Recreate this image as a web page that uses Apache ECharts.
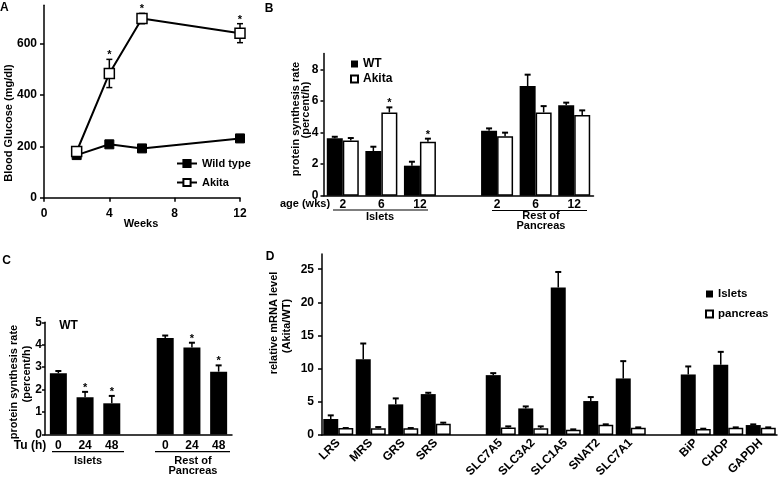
<!DOCTYPE html>
<html><head><meta charset="utf-8">
<script src="https://cdn.jsdelivr.net/npm/echarts@6/dist/echarts.min.js"></script>
<style>html,body{margin:0;padding:0;background:#fff}#c{width:778px;height:482px}</style>
</head><body><div id="c"></div>
<script>
// ---- Panel A: blood glucose ----
const weeks = [2, 4, 6, 12];
const glucoseWT = [166, 208, 192, 231];
const glucoseWTSem = [8, 10, 8, 12];
const glucoseAkita = [180, 484, 698, 641];
const glucoseAkitaSem = [10, 55, 20, 37];
const glucoseAkitaSig = [0, 1, 1, 1];
const glucoseTicks = [0, 200, 400, 600];

// ---- Panel B: protein synthesis by age ----
const ageCats = ['2', '6', '12', '', '2', '6', '12'];
const synthWT = [3.63, 2.83, 1.90, null, 4.11, 6.94, 5.72];
const synthWTErr = [0.10, 0.27, 0.25, null, 0.15, 0.72, 0.17];
const synthAkita = [3.50, 5.27, 3.42, null, 3.76, 5.27, 5.11];
const synthAkitaErr = [0.15, 0.32, 0.19, null, 0.23, 0.40, 0.29];
const synthAkitaSig = [0, 1, 1, 0, 0, 0, 0];
const synthTicks = [0, 2, 4, 6, 8];

// ---- Panel C: tunicamycin ----
const tuCats = ['0', '24', '48', '', '0', '24', '48'];
const tuRate = [2.73, 1.66, 1.39, null, 4.30, 3.88, 2.80];
const tuErr = [0.10, 0.24, 0.33, null, 0.11, 0.21, 0.28];
const tuSig = [0, 1, 1, 0, 0, 1, 1];

// ---- Panel D: relative mRNA ----
const genes = ['LRS', 'MRS', 'GRS', 'SRS', '', 'SLC7A5', 'SLC3A2', 'SLC1A5', 'SNAT2', 'SLC7A1', '', 'BiP', 'CHOP', 'GAPDH'];
const isletsMRNA = [2.41, 11.44, 4.62, 6.17, null, 9.03, 4.01, 22.23, 5.12, 8.53, null, 9.13, 10.59, 1.50];
const isletsErr = [0.55, 2.36, 0.90, 0.20, null, 0.30, 0.30, 2.36, 0.60, 2.61, null, 1.21, 1.95, 0.10];
const pancreasMRNA = [1.05, 1.00, 1.00, 1.71, null, 1.15, 1.00, 0.80, 1.56, 1.10, null, 0.90, 1.10, 1.10];
const pancreasErr = [0.00, 0.20, 0.05, 0.15, null, 0.15, 0.30, 0.05, 0.05, 0.05, null, 0.05, 0.05, 0.05];
const mrnaTicks = [0, 5, 10, 15, 20, 25];

const FF = 'Liberation Sans';
const T = { fontFamily: FF, fontWeight: 'bold', fontSize: 11, color: '#000' };
const TL = { fontFamily: FF, fontWeight: 'bold', fontSize: 12, color: '#000' };
const AX = { show: true, lineStyle: { color: '#000', width: 1.5 } };
const TK = { show: true, length: 4, lineStyle: { color: '#000', width: 1.5 } };

function catErrData(vals, errs, sig) {
  const out = [];
  vals.forEach((v, i) => { if (v != null) out.push([i, v, v + errs[i], sig ? sig[i] : 0]); });
  return out;
}
function catErrRender(offset) {
  return function (params, api) {
    const i = api.value(0);
    const a = api.coord([i, api.value(1)]);
    const b = api.coord([i, api.value(2)]);
    const x = a[0] + offset;
    const ch = [
      { type: 'line', shape: { x1: x, y1: a[1], x2: x, y2: b[1] }, style: { stroke: '#000', lineWidth: 1.5 } },
      { type: 'line', shape: { x1: x - 3, y1: b[1], x2: x + 3, y2: b[1] }, style: { stroke: '#000', lineWidth: 2 } }
    ];
    if (api.value(3)) ch.push({ type: 'text', x: x, y: b[1] - 4, style: { text: '*', font: 'bold 11px ' + FF, fill: '#000', textAlign: 'center', textVerticalAlign: 'middle' } });
    return { type: 'group', children: ch };
  };
}
function lineErrData(xs, vals, sems, sig) {
  return xs.map((x, i) => [x, vals[i] - sems[i], vals[i] + sems[i], sig ? sig[i] : 0]);
}
function lineErrRender(params, api) {
  const x = api.value(0);
  const a = api.coord([x, api.value(1)]);
  const b = api.coord([x, api.value(2)]);
  const ch = [
    { type: 'line', shape: { x1: a[0], y1: a[1], x2: b[0], y2: b[1] }, style: { stroke: '#000', lineWidth: 1.5 } },
    { type: 'line', shape: { x1: a[0] - 3, y1: a[1], x2: a[0] + 3, y2: a[1] }, style: { stroke: '#000', lineWidth: 1.5 } },
    { type: 'line', shape: { x1: b[0] - 3, y1: b[1], x2: b[0] + 3, y2: b[1] }, style: { stroke: '#000', lineWidth: 1.5 } }
  ];
  if (api.value(3)) ch.push({ type: 'text', x: b[0], y: b[1] - 4, style: { text: '*', font: 'bold 11px ' + FF, fill: '#000', textAlign: 'center', textVerticalAlign: 'middle' } });
  return { type: 'group', children: ch };
}

function txt(s, x, y, opt) {
  opt = opt || {};
  return {
    type: 'text', x: x, y: y, rotation: opt.rot || 0, silent: true,
    style: { text: s, font: 'bold ' + (opt.size || 11) + 'px ' + FF, fill: '#000', textAlign: opt.align || 'center', textVerticalAlign: 'middle' }
  };
}
function hline(x1, x2, y) {
  return { type: 'line', silent: true, shape: { x1: x1, y1: y, x2: x2, y2: y }, style: { stroke: '#000', lineWidth: 1.2 } };
}

const chart = echarts.init(document.getElementById('c'), null, { renderer: 'canvas' });
chart.setOption({
  animation: false,
  backgroundColor: '#fff',
  grid: [
    { left: 44, top: 5.2, width: 196, height: 192.5, outerBoundsMode: 'none', containLabel: false },
    { left: 323.5, top: 53.5, width: 270, height: 142.2, outerBoundsMode: 'none', containLabel: false },
    { left: 45, top: 322.3, width: 187, height: 112.2, outerBoundsMode: 'none', containLabel: false },
    { left: 322, top: 254, width: 455, height: 181, outerBoundsMode: 'none', containLabel: false }
  ],
  xAxis: [
    { gridIndex: 0, type: 'value', min: 0, max: 12, interval: 4, axisLine: AX, axisTick: TK, axisLabel: Object.assign({ margin: 10 }, TL), splitLine: { show: false } },
    { gridIndex: 1, type: 'category', data: ageCats, axisLine: AX, axisTick: { show: false }, axisLabel: Object.assign({ margin: 3, interval: 0 }, TL) },
    { gridIndex: 2, type: 'category', data: tuCats, axisLine: AX, axisTick: { show: false }, axisLabel: Object.assign({ margin: 5, interval: 0 }, TL) },
    { gridIndex: 3, type: 'category', data: genes, axisLine: AX, axisTick: { show: false }, axisLabel: Object.assign({ margin: 6, interval: 0, rotate: 45 }, TL) }
  ],
  yAxis: [
    { gridIndex: 0, type: 'value', min: 0, max: 750, axisLine: AX, axisTick: Object.assign({ customValues: glucoseTicks }, TK), axisLabel: Object.assign({ margin: 7, customValues: glucoseTicks }, TL), splitLine: { show: false } },
    { gridIndex: 1, type: 'value', min: 0, max: 9, axisLine: AX, axisTick: Object.assign({ customValues: synthTicks }, TK, { length: 3 }), axisLabel: Object.assign({ margin: 5, customValues: synthTicks }, TL), splitLine: { show: false } },
    { gridIndex: 2, type: 'value', min: 0, max: 5, interval: 1, axisLine: AX, axisTick: Object.assign({}, TK, { length: 3 }), axisLabel: Object.assign({ margin: 3 }, TL), splitLine: { show: false } },
    { gridIndex: 3, type: 'value', min: 0, max: 27.3, axisLine: AX, axisTick: Object.assign({ customValues: mrnaTicks }, TK), axisLabel: Object.assign({ margin: 8, customValues: mrnaTicks }, TL), splitLine: { show: false } }
  ],
  legend: [
    { data: ['Wild type', 'Akita'], orient: 'vertical', left: 176, top: 158, padding: 0, itemWidth: 20, itemHeight: 9, itemGap: 8, textStyle: T, selectedMode: false },
    { data: ['WT', 'Akita_B'], orient: 'vertical', left: 350, top: 58, padding: 0, itemWidth: 7, itemHeight: 7, itemGap: 3, textStyle: TL, selectedMode: false, icon: 'rect', formatter: n => n.replace('_B', '') },
    { data: ['Islets', 'pancreas'], orient: 'vertical', left: 705, top: 288, padding: 0, itemWidth: 7, itemHeight: 7, itemGap: 8, textStyle: Object.assign({}, T, { fontSize: 11.5 }), selectedMode: false, icon: 'rect' }
  ],
  series: [
    { name: 'Akita_err', type: 'custom', xAxisIndex: 0, yAxisIndex: 0, z: 1, renderItem: lineErrRender, encode: { x: 0, y: [1, 2] }, data: lineErrData(weeks, glucoseAkita, glucoseAkitaSem, glucoseAkitaSig) },
    { name: 'WT_err', type: 'custom', xAxisIndex: 0, yAxisIndex: 0, z: 1, renderItem: lineErrRender, encode: { x: 0, y: [1, 2] }, data: lineErrData(weeks, glucoseWT, glucoseWTSem, null) },
    { name: 'Wild type', type: 'line', xAxisIndex: 0, yAxisIndex: 0, z: 3, data: weeks.map((w, i) => [w, glucoseWT[i]]), symbol: 'rect', symbolSize: 9, showAllSymbol: true, lineStyle: { color: '#000', width: 2 }, itemStyle: { color: '#000', borderColor: '#000', borderWidth: 1 } },
    { name: 'Akita', type: 'line', xAxisIndex: 0, yAxisIndex: 0, z: 3, data: weeks.map((w, i) => [w, glucoseAkita[i]]), symbol: 'rect', symbolSize: 10, showAllSymbol: true, lineStyle: { color: '#000', width: 2 }, itemStyle: { color: '#fff', borderColor: '#000', borderWidth: 1.5 } },

    { name: 'WT', type: 'bar', xAxisIndex: 1, yAxisIndex: 1, data: synthWT.map(v => v == null ? '-' : v), barWidth: 16, barGap: '0%', itemStyle: { color: '#000' } },
    { name: 'Akita_B', type: 'bar', xAxisIndex: 1, yAxisIndex: 1, data: synthAkita.map(v => v == null ? '-' : v), barWidth: 16, barGap: '0%', itemStyle: { color: '#fff', borderColor: '#000', borderWidth: 1.5 } },
    { name: 'WT_B_err', type: 'custom', xAxisIndex: 1, yAxisIndex: 1, z: 1, renderItem: catErrRender(-8), encode: { x: 0, y: [1, 2] }, data: catErrData(synthWT, synthWTErr, null) },
    { name: 'Akita_B_err', type: 'custom', xAxisIndex: 1, yAxisIndex: 1, z: 1, renderItem: catErrRender(8), encode: { x: 0, y: [1, 2] }, data: catErrData(synthAkita, synthAkitaErr, synthAkitaSig) },

    { name: 'Tu', type: 'bar', xAxisIndex: 2, yAxisIndex: 2, data: tuRate.map(v => v == null ? '-' : v), barWidth: 17, itemStyle: { color: '#000' } },
    { name: 'Tu_err', type: 'custom', xAxisIndex: 2, yAxisIndex: 2, z: 1, renderItem: catErrRender(0), encode: { x: 0, y: [1, 2] }, data: catErrData(tuRate, tuErr, tuSig) },

    { name: 'Islets', type: 'bar', xAxisIndex: 3, yAxisIndex: 3, data: isletsMRNA.map(v => v == null ? '-' : v), barWidth: 15, barGap: '0%', itemStyle: { color: '#000' } },
    { name: 'pancreas', type: 'bar', xAxisIndex: 3, yAxisIndex: 3, data: pancreasMRNA.map(v => v == null ? '-' : v), barWidth: 15, barGap: '0%', itemStyle: { color: '#fff', borderColor: '#000', borderWidth: 1.5 } },
    { name: 'Islets_err', type: 'custom', xAxisIndex: 3, yAxisIndex: 3, z: 1, renderItem: catErrRender(-7.5), encode: { x: 0, y: [1, 2] }, data: catErrData(isletsMRNA, isletsErr, null) },
    { name: 'pancreas_err', type: 'custom', xAxisIndex: 3, yAxisIndex: 3, z: 1, renderItem: catErrRender(7.5), encode: { x: 0, y: [1, 2] }, data: catErrData(pancreasMRNA, pancreasErr, null) }
  ],
  graphic: [
    txt('A', 0, 8, { align: 'left', size: 12 }),
    txt('B', 269, 9, { size: 12 }),
    txt('C', 6.5, 261, { size: 12 }),
    txt('D', 270, 257, { size: 12 }),
    txt('Blood Glucose (mg/dl)', 8.5, 123, { rot: Math.PI / 2 }),
    txt('Weeks', 141, 224),
    txt('protein synthesis rate', 296, 119, { rot: Math.PI / 2 }),
    txt('(percent/h)', 306, 110, { rot: Math.PI / 2 }),
    txt('age (wks)', 305, 204),
    hline(333, 428, 210), txt('Islets', 380, 217),
    hline(492, 587, 210.5), txt('Rest of', 541, 216.3), txt('Pancreas', 541, 225.5),
    txt('protein synthesis rate', 13.5, 382, { rot: Math.PI / 2 }),
    txt('(percent/h)', 27, 374, { rot: Math.PI / 2 }),
    txt('WT', 68.5, 326, { size: 12 }),
    txt('Tu (h)', 30, 446, { size: 12 }),
    hline(52, 124, 451.7), txt('Islets', 88, 461),
    hline(155, 230, 451.7), txt('Rest of', 193, 461), txt('Pancreas', 193, 471),
    txt('relative mRNA level', 274, 323, { rot: Math.PI / 2 }),
    txt('(Akita/WT)', 287, 326, { rot: Math.PI / 2 })
  ]
});
</script></body></html>
